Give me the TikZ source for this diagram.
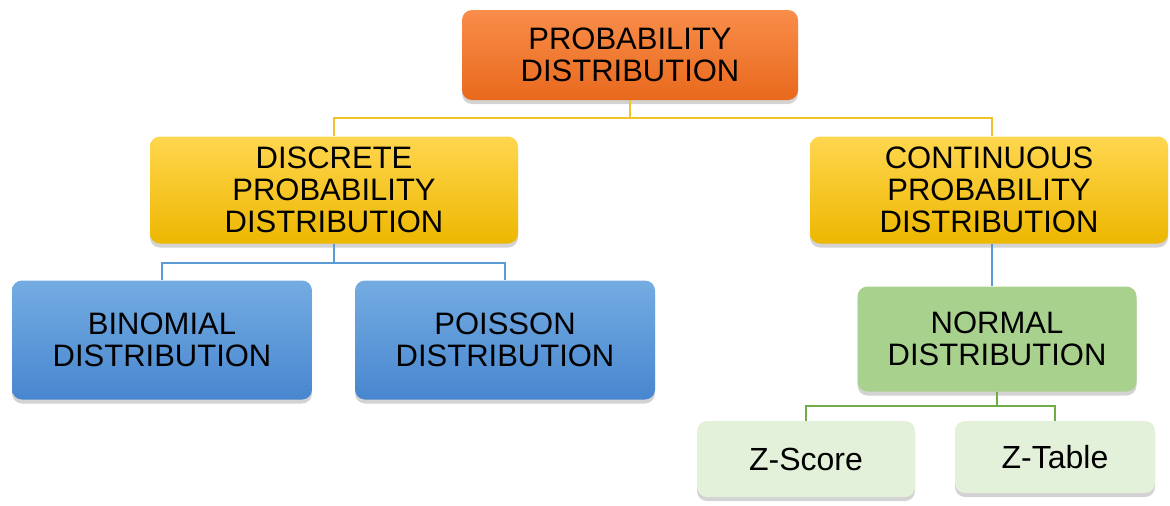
\documentclass[tikz,border=0pt]{standalone}
\usepackage{fontspec}
\setmainfont{Liberation Sans}
\usetikzlibrary{shadows}

\definecolor{orangetop}{HTML}{F98D4A}
\definecolor{orangebot}{HTML}{E8691C}
\definecolor{yellowtop}{HTML}{FFD64F}
\definecolor{yellowbot}{HTML}{EDB700}
\definecolor{bluetop}{HTML}{74ACE2}
\definecolor{bluebot}{HTML}{4886CF}
\definecolor{normgreen}{HTML}{A9D18E}
\definecolor{palegreen}{HTML}{E4F1DA}
\definecolor{lineyellow}{HTML}{F2C12E}
\definecolor{lineblue}{HTML}{5B9BD5}
\definecolor{linegreen}{HTML}{70AD47}

\tikzset{
    box/.style={rounded corners=10pt, align=center, inner sep=0pt,
        font=\fontsize{31}{32}\selectfont,
        drop shadow={shadow xshift=0pt, shadow yshift=-4pt, opacity=0.35}},
    rootbox/.style={box, top color=orangetop, bottom color=orangebot,
        minimum width=336pt, minimum height=90pt},
    kindbox/.style={box, top color=yellowtop, bottom color=yellowbot,
        minimum height=107pt},
    distbox/.style={box, top color=bluetop, bottom color=bluebot,
        minimum width=300pt, minimum height=119pt},
    normbox/.style={box, fill=normgreen, minimum width=279pt, minimum height=105pt},
    zbox/.style={box, fill=palegreen, font=\fontsize{32}{32}\selectfont},
    link/.style={line width=2pt}
}

\begin{document}
\begin{tikzpicture}[x=1pt, y=-1pt]
        \useasboundingbox (0,0) rectangle (1170,506);

        \node[rootbox] (prob) at (630,55) {PROBABILITY\\DISTRIBUTION};
        \node[kindbox, minimum width=368pt] (discrete) at (334,190) {DISCRETE\\PROBABILITY\\DISTRIBUTION};
        \node[kindbox, minimum width=358pt] (contin) at (989,190) {CONTINUOUS\\PROBABILITY\\DISTRIBUTION};
        \node[distbox] (binom) at (162,340) {BINOMIAL\\DISTRIBUTION};
        \node[distbox] (poisson) at (505,340) {POISSON\\DISTRIBUTION};
        \node[normbox] (normal) at (997,339) {NORMAL\\DISTRIBUTION};
        \node[zbox, minimum width=218pt, minimum height=76pt] (zscore) at (806,459) {Z-Score};
        \node[zbox, minimum width=200pt, minimum height=72pt] (ztable) at (1055,457) {Z-Table};

        % top level
        \draw[link, lineyellow] (prob.south) -- ++(0,18) -| (discrete.north);
        \draw[link, lineyellow] (prob.south) -- ++(0,18) -| ([xshift=3pt]contin.north);
        % discrete
        \draw[link, lineblue] (discrete.south) -- ++(0,19) -| (binom.north);
        \draw[link, lineblue] (discrete.south) -- ++(0,19) -| (poisson.north);
        % continuous
        \draw[link, lineblue, line width=1.2pt] ([xshift=3pt]contin.south) -- ([xshift=3pt]contin.south |- normal.north);
        % normal
        \draw[link, linegreen] (normal.south) -- ++(0,14) -| (zscore.north);
        \draw[link, linegreen] (normal.south) -- ++(0,14) -| (ztable.north);
\end{tikzpicture}
\end{document}
